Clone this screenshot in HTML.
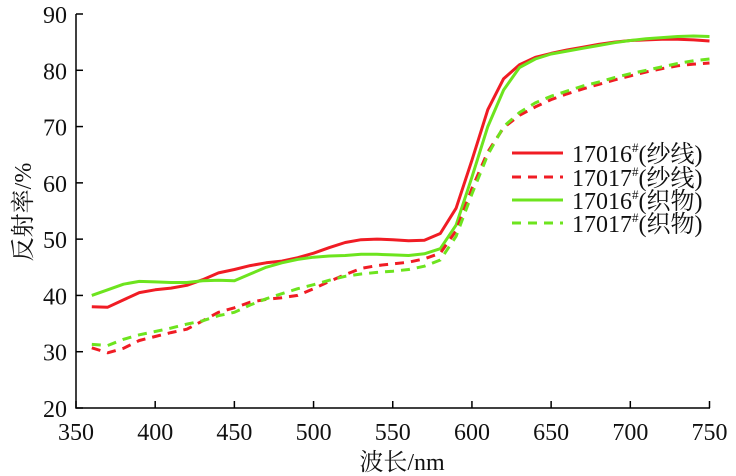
<!DOCTYPE html>
<html><head><meta charset="utf-8"><style>
body{margin:0;background:#fff;}
svg{display:block;font-family:"Liberation Serif","Noto Serif CJK SC",serif;}
</style></head><body>
<svg id="s" width="736" height="476" viewBox="0 0 736 476">
<g stroke="#000" stroke-width="1.5" fill="none">
<path d="M76,14 V408 H710"/>
</g>
<g id="ticks" stroke="#000" stroke-width="1.5"></g>
<g id="labels" font-size="24" fill="#111"></g>
<g id="series" fill="none" stroke-width="3"></g>
<text x="0" y="0" font-size="24" transform="translate(31,212) rotate(-90)" text-anchor="middle" fill="#111">反射率/%</text>
<text x="402" y="470" font-size="24" text-anchor="middle" fill="#111">波长/nm</text>
<g font-size="24" fill="#111">
<line x1="512" y1="153" x2="563" y2="153" stroke="#f01c24" stroke-width="3"/>
<line x1="512" y1="177" x2="563" y2="177" stroke="#f01c24" stroke-width="3" stroke-dasharray="9,7"/>
<line x1="512" y1="200" x2="563" y2="200" stroke="#6de41e" stroke-width="3"/>
<line x1="512" y1="223" x2="563" y2="223" stroke="#6de41e" stroke-width="3" stroke-dasharray="9,7"/>
<text x="572" y="162">17016<tspan font-size="13" dy="-10">#</tspan><tspan dy="10">(纱线)</tspan></text>
<text x="572" y="186">17017<tspan font-size="13" dy="-10">#</tspan><tspan dy="10">(纱线)</tspan></text>
<text x="572" y="209">17016<tspan font-size="13" dy="-10">#</tspan><tspan dy="10">(织物)</tspan></text>
<text x="572" y="232">17017<tspan font-size="13" dy="-10">#</tspan><tspan dy="10">(织物)</tspan></text>
</g>
</svg>
<script>
var X=function(w){return 76+(w-350)*633.5/400},Y=function(v){return 408-(v-20)*394/70};
var ns="http://www.w3.org/2000/svg",t=document.getElementById('ticks'),l=document.getElementById('labels');
function el(p,tag,a,txt){var e=document.createElementNS(ns,tag);for(var k in a)e.setAttribute(k,a[k]);if(txt)e.textContent=txt;p.appendChild(e);}
for(var w=350;w<=750;w+=50){el(t,'line',{x1:X(w),x2:X(w),y1:408,y2:401});el(l,'text',{x:X(w),y:440,'text-anchor':'middle'},String(w));}
for(var v=20;v<=90;v+=10){el(t,'line',{x1:76,x2:83,y1:Y(v),y2:Y(v)});el(l,'text',{x:67,y:Y(v)+9,'text-anchor':'end'},String(v));}
var D=[
["#f01c24","",[38,37.9,39.2,40.5,41,41.3,41.8,42.8,44,44.6,45.3,45.8,46.1,46.7,47.5,48.5,49.4,49.9,50,49.9,49.7,49.8,51,55.5,64,73,78.5,81,82.3,83,83.6,84.1,84.6,85,85.3,85.4,85.5,85.5,85.4,85.2]],
["#6de41e","",[40,41,42,42.5,42.4,42.3,42.3,42.6,42.7,42.6,43.8,45,45.8,46.4,46.8,47,47.1,47.3,47.3,47.2,47.1,47.4,48.3,52.5,61,70,76.5,80.5,82,82.9,83.4,83.9,84.4,84.9,85.3,85.6,85.8,86,86.1,86]],
["#f01c24","9,7",[30.7,29.8,30.6,32,32.7,33.4,34,35.5,37,37.8,38.8,39.3,39.6,40,41.2,42.5,43.7,44.8,45.3,45.6,45.9,46.5,47.5,51.5,59,65.5,69.8,72,73.5,74.8,75.8,76.7,77.5,78.3,79,79.7,80.3,80.8,81.1,81.3]],
["#6de41e","9,7",[31.3,31.1,32.2,33,33.6,34.2,34.9,35.5,36.4,37,38.3,39.4,40.3,41.2,41.9,42.7,43.4,43.8,44.1,44.3,44.6,45.2,46.3,50.5,58,65,70,72.5,74.2,75.4,76.3,77.2,77.9,78.7,79.4,80,80.6,81.2,81.7,82]]];
var g=document.getElementById('series');
D.forEach(function(s){var p=s[2].map(function(v,i){return X(360+i*10).toFixed(1)+","+Y(v).toFixed(1)}).join(" ");
var a={points:p,stroke:s[0],'stroke-linejoin':'round'};if(s[1])a['stroke-dasharray']=s[1];el(g,'polyline',a);});
</script>
</body></html>
